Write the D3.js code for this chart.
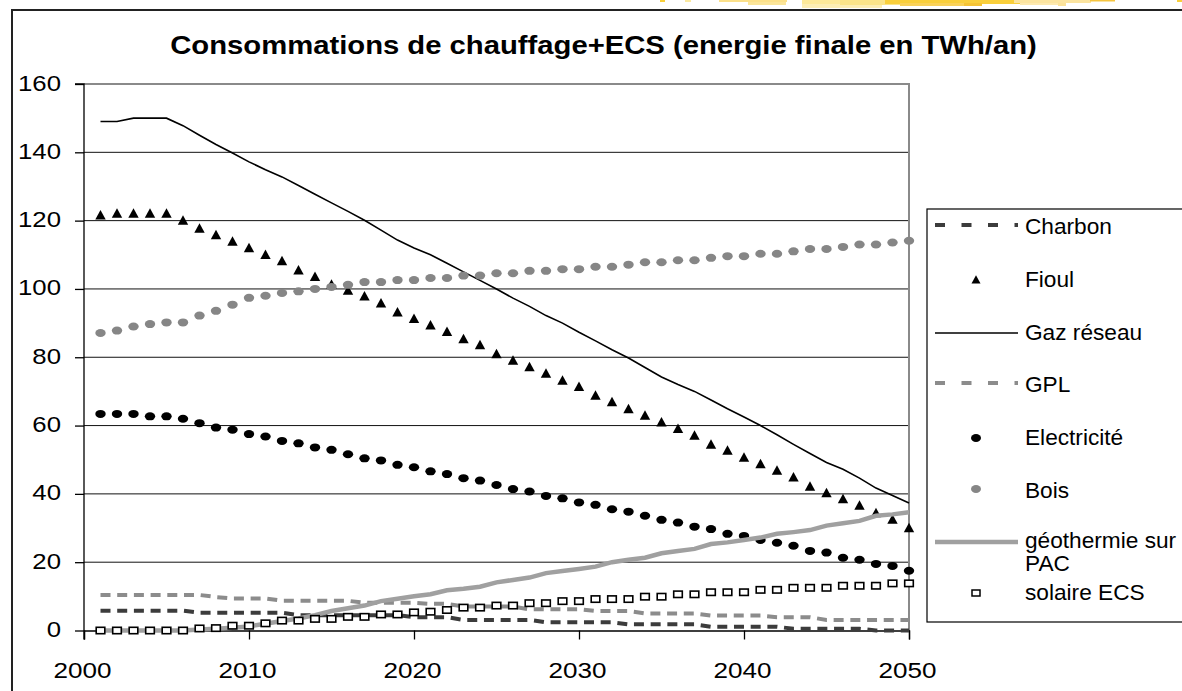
<!DOCTYPE html>
<html><head><meta charset="utf-8">
<script src="https://cdn.jsdelivr.net/npm/d3@7"></script>
<style>body{margin:0;background:#fff}svg{display:block}text{font-family:"Liberation Sans",Arial,sans-serif;fill:#000}</style>
</head><body><svg id="c" width="1182" height="691"></svg>
<script>
const years = [2001,2002,2003,2004,2005,2006,2007,2008,2009,2010,2011,2012,2013,2014,2015,2016,2017,2018,2019,2020,
  2021,2022,2023,2024,2025,2026,2027,2028,2029,2030,2031,2032,2033,2034,2035,2036,2037,2038,2039,2040,
  2041,2042,2043,2044,2045,2046,2047,2048,2049,2050];
const charbon = [5.8,5.8,5.8,5.8,5.8,5.8,5.2,5.2,5.2,5.2,5.2,5.2,4.5,4.5,4.5,4.5,4.5,4.5,4.5,3.9,
  3.9,3.9,3.1,3.1,3.1,3.1,3.1,2.4,2.4,2.4,2.4,2.4,1.8,1.8,1.8,1.8,1.8,1.1,1.1,1.1,
  1.1,1.1,0.5,0.5,0.5,0.5,0.5,0,0,0];
const fioul = [121.5,122,122,122,122,120,117.6,115.7,113.8,111.9,109.9,108.1,105.4,103.5,101.2,99.5,97.8,95.7,93.1,91.2,
  89.3,87.4,85.3,83.5,80.9,79,77.1,75.2,73.1,71.3,68.7,66.8,64.8,62.9,60.9,59,57,54.4,52.6,50.6,
  48.7,46.8,44.8,42.1,40.2,38.4,36.5,34.3,32.4,29.9];
const gaz = [149,149,150,150,150,147.8,145,142.3,139.8,137.2,134.9,132.8,130.3,127.7,125.2,122.7,120.1,117.2,114.3,112,
  110,107.5,105,102.5,100,97.3,94.9,92.2,90,87.3,84.8,82.2,79.8,77,74.2,72,70,67.5,64.9,62.5,
  60,57.3,54.5,51.8,49.2,47.2,44.6,41.7,39.5,37.3];
const gpl = [10.4,10.4,10.4,10.4,10.4,10.4,10.4,9.8,9.4,9.4,9.4,8.7,8.7,8.7,8.7,8.7,8.1,8.1,8.1,8.1,
  7.8,7.8,7.0,7.0,7.0,7.0,6.2,6.2,6.2,6.2,5.7,5.7,5.7,5.0,5.0,5.0,5.0,4.4,4.4,4.4,
  4.4,3.9,3.9,3.9,3.1,3.1,3.1,3.1,3.1,3.1];
const electricite = [63.4,63.4,63.4,62.7,62.7,62.0,60.7,59.4,58.8,57.5,56.8,55.5,54.8,53.6,52.9,51.6,50.4,49.8,48.5,47.8,
  46.6,45.8,44.6,43.9,42.6,41.4,40.7,39.4,38.7,37.5,36.8,35.5,34.8,33.6,32.4,31.6,30.4,29.7,28.3,27.7,
  26.5,25.7,24.8,23.3,22.8,21.3,20.7,19.5,18.9,17.5];
const bois = [87.1,87.8,89.0,89.7,90.2,90.2,92.2,93.6,95.4,97.4,98.0,98.8,99.3,100.0,100.6,101.2,102.0,102.0,102.6,102.6,
  103.2,103.2,103.9,103.9,104.6,104.6,105.3,105.3,105.8,105.8,106.5,106.5,107.1,107.8,107.8,108.4,108.4,109.1,109.6,109.6,
  110.3,110.3,111.0,111.7,111.7,112.3,113.0,113.0,113.6,114.1];
const geothermie = [0,0,0,0,0,0,0.3,0.5,0.8,1.2,2.0,2.8,3.5,4.5,5.7,6.5,7.3,8.6,9.3,10.0,
  10.6,11.8,12.2,12.8,14.1,14.8,15.5,16.8,17.4,18.0,18.7,20.0,20.7,21.3,22.6,23.3,23.9,25.3,25.8,26.5,
  27.2,28.3,28.8,29.4,30.7,31.4,32.1,33.6,34.0,34.6];
const solaire = [0,0,0,0,0,0,0.6,0.7,1.4,1.4,2.1,2.9,2.9,3.4,3.4,4.0,4.0,4.7,4.7,5.3,
  5.5,6.0,6.7,6.7,7.3,7.3,8.0,8.0,8.6,8.6,9.2,9.2,9.2,9.9,9.9,10.6,10.6,11.2,11.2,11.2,
  11.9,11.9,12.5,12.5,12.5,13.1,13.1,13.1,13.8,13.8];
const yTicks = [0,20,40,60,80,100,120,140,160];
const xTicks = [2000,2010,2020,2030,2040,2050];
const title = "Consommations de chauffage+ECS (energie finale en TWh/an)";
const legendLabels = ["Charbon","Fioul","Gaz réseau","GPL","Electricité","Bois","géothermie sur|PAC","solaire ECS"];

const svg = d3.select("#c");
const x = d3.scaleLinear().domain([2000,2050]).range([84,909]);
const y = d3.scaleLinear().domain([0,160]).range([630.5,84]);

function stext(g, tx, ty, str, size, sx, anchor, weight){
  return g.append("text").attr("transform",`translate(${tx},${ty}) scale(${sx},1)`)
    .attr("font-size",size).attr("text-anchor",anchor||"start").attr("font-weight",weight||"normal").text(str);
}

// top decoration (slide background)
const deco = svg.append("g");
const decoRects = [
  [660,0,5,2,"#f8cf3a"],[685,0,6,2,"#fbe9a0"],[719,0,68,2,"#fbe08a"],[748,2,38,3,"#fbe59a"],
  [802,0,135,4,"#fde99a"],[802,4,80,4,"#fdeeb5"],[840,0,60,5,"#fbe48a"],[885,0,140,4,"#f9cf3c"],[900,3,70,3,"#fad25a"],
  [964,3,18,3,"#f5c335"],[1014,0,77,3,"#fbe4a0"],[1020,3,40,2,"#fde9b0"],[1090,0,25,1.5,"#f6c540"],[1058,3,8,3,"#fbe29a"],[1177,0,5,2,"#f8cf3a"]
];
deco.selectAll("rect").data(decoRects).join("rect")
  .attr("x",d=>d[0]).attr("y",d=>d[1]).attr("width",d=>d[2]).attr("height",d=>d[3]).attr("fill",d=>d[4]);

// outer frame
svg.append("path").attr("d","M12,700 L12,10 L1190,10").attr("fill","none").attr("stroke","#222").attr("stroke-width",2);

// title
stext(svg, 603.5, 54.3, title, 25.5, 1.147, "middle", "bold");

// gridlines
const grid = svg.append("g");
grid.selectAll("line").data(yTicks.filter(v=>v>0 && v<160)).join("line")
  .attr("x1",x(2000)).attr("x2",x(2050)).attr("y1",d=>y(d)).attr("y2",d=>y(d))
  .attr("stroke","#111").attr("stroke-width",1);
// plot border top/right (gray)
svg.append("path").attr("d",`M${x(2000)},${y(160)} L${x(2050)},${y(160)} L${x(2050)},${y(0)}`)
  .attr("fill","none").attr("stroke","#8a8a8a").attr("stroke-width",2);

// axes
const yAxis = svg.append("g").attr("transform",`translate(${x(2000)},0)`)
  .call(d3.axisLeft(y).tickValues(yTicks).tickSize(9).tickFormat(""));
const xAxis = svg.append("g").attr("transform",`translate(0,${y(0)})`)
  .call(d3.axisBottom(x).tickValues(xTicks).tickSize(9).tickFormat(""));
[yAxis,xAxis].forEach(a=>{a.select(".domain").attr("stroke","#000").attr("stroke-width",1.3);
  a.selectAll(".tick line").attr("stroke","#000").attr("stroke-width",1.3);});
yAxis.select(".domain").attr("d",`M-9,${y(160)}H0V${y(0)+9}`);

yTicks.forEach(v=>stext(svg, 61, y(v)+6.5, String(v), 22.3, 1.156, "end"));
xTicks.forEach(v=>stext(svg, x(v)-1.5, 678, String(v), 22.3, 1.17, "middle"));

// series
const line = d3.line().x((d,i)=>x(years[i])).y(d=>y(d));
const plot = svg.append("g");
plot.append("path").datum(charbon).attr("d",line).attr("fill","none").attr("stroke","#3c3c3c")
  .attr("stroke-width",4).attr("stroke-dasharray","10,6.7");
const tri = "M0,-5.5 L5.2,4 L-5.2,4 Z";
plot.append("g").selectAll("path").data(fioul).join("path")
  .attr("d",tri).attr("transform",(d,i)=>`translate(${x(years[i])},${y(d)})`).attr("fill","#000");
plot.append("path").datum(gaz).attr("d",line).attr("fill","none").attr("stroke","#000").attr("stroke-width",1.6);
plot.append("path").datum(gpl).attr("d",line).attr("fill","none").attr("stroke","#8c8c8c")
  .attr("stroke-width",4).attr("stroke-dasharray","10,6.7");
plot.append("g").selectAll("ellipse").data(electricite).join("ellipse")
  .attr("cx",(d,i)=>x(years[i])).attr("cy",d=>y(d)).attr("rx",5.2).attr("ry",4).attr("fill","#000");
plot.append("g").selectAll("ellipse").data(bois).join("ellipse")
  .attr("cx",(d,i)=>x(years[i])).attr("cy",d=>y(d)).attr("rx",5.2).attr("ry",4).attr("fill","#868686");
plot.append("path").datum(geothermie).attr("d",line).attr("fill","none").attr("stroke","#a0a0a0").attr("stroke-width",4.5);
plot.append("g").selectAll("rect").data(solaire).join("rect")
  .attr("x",(d,i)=>x(years[i])-4.3).attr("y",d=>y(d)-3.2).attr("width",8.6).attr("height",6.4)
  .attr("fill","#fff").attr("stroke","#000").attr("stroke-width",1.6);

// legend
const lg = svg.append("g");
lg.append("rect").attr("x",927).attr("y",209).attr("width",300).attr("height",413)
  .attr("fill","#fff").attr("stroke","#000").attr("stroke-width",1.2);
const ly = [225,280,333,383,438,489,542,593];
const lbase = [234,287,340,392,445,498,548,600];
const mx = 976;
lg.append("line").attr("x1",935).attr("x2",1018).attr("y1",ly[0]).attr("y2",ly[0]).attr("stroke","#3c3c3c").attr("stroke-width",4).attr("stroke-dasharray","10,16.5");
lg.append("path").attr("d","M0,-4.8 L4.5,3.6 L-4.5,3.6 Z").attr("transform",`translate(${mx},${ly[1]})`).attr("fill","#000");
lg.append("line").attr("x1",935).attr("x2",1018).attr("y1",ly[2]).attr("y2",ly[2]).attr("stroke","#000").attr("stroke-width",1.6);
lg.append("line").attr("x1",935).attr("x2",1018).attr("y1",ly[3]).attr("y2",ly[3]).attr("stroke","#8c8c8c").attr("stroke-width",4).attr("stroke-dasharray","10,16.5");
lg.append("ellipse").attr("cx",mx).attr("cy",ly[4]).attr("rx",5).attr("ry",4).attr("fill","#000");
lg.append("ellipse").attr("cx",mx).attr("cy",ly[5]).attr("rx",5).attr("ry",4).attr("fill","#868686");
lg.append("line").attr("x1",935).attr("x2",1018).attr("y1",ly[6]).attr("y2",ly[6]).attr("stroke","#a0a0a0").attr("stroke-width",4.5);
lg.append("rect").attr("x",mx-4).attr("y",ly[7]-3).attr("width",8).attr("height",6).attr("fill","#fff").attr("stroke","#000").attr("stroke-width",1.5);
legendLabels.forEach((t,i)=>{
  const parts = t.split("|");
  stext(lg, 1025, lbase[i], parts[0], 21.6, 1.05, "start");
  if(parts[1]) stext(lg, 1025, 571, parts[1], 21.6, 1.05, "start");
});
</script></body></html>
